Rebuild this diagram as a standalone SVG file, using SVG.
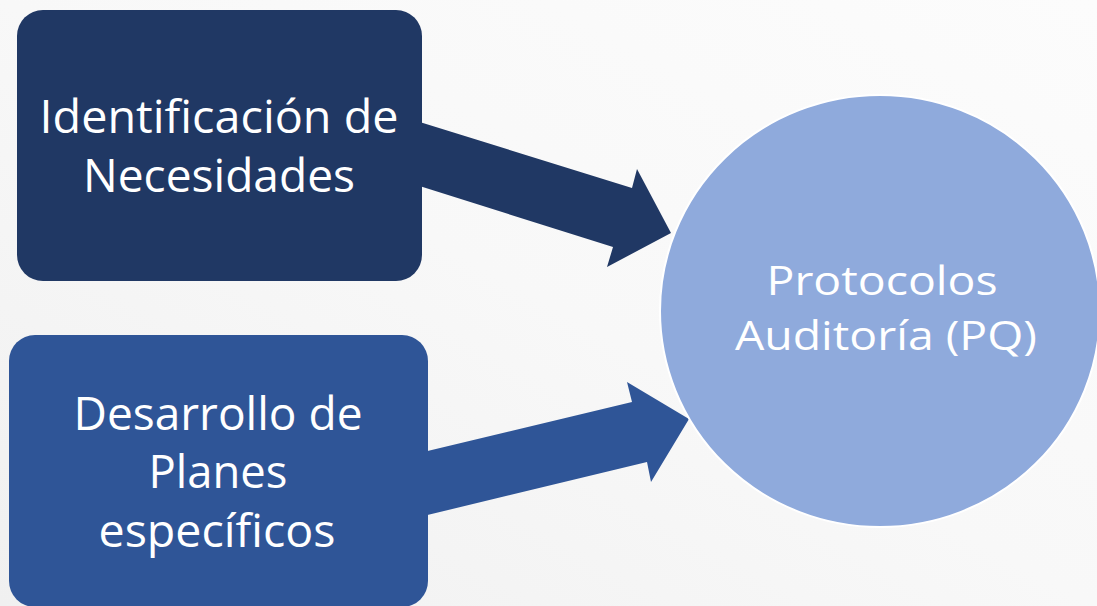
<svg xmlns="http://www.w3.org/2000/svg" width="1097" height="606" viewBox="0 0 1097 606">
  <defs>
    <linearGradient id="bg" x1="1" y1="0" x2="0" y2="1">
      <stop offset="0" stop-color="#fcfcfc"/>
      <stop offset="0.5" stop-color="#f8f8f8"/>
      <stop offset="1" stop-color="#f0f0f0"/>
    </linearGradient>
    <style>
      .lbl { font-family: "Open Sans", "Noto Sans", "Liberation Sans", sans-serif; font-size: 45px; fill: #ffffff; text-anchor: middle; }
      .lbl-c { font-size: 41px; }
    </style>
  </defs>
  <rect x="0" y="0" width="1097" height="606" fill="url(#bg)"/>

  <g id="connectors">
    <polygon fill="#203864" points="410,119 632,188 637,169 671,233 607,267 613,247 410,183"/>
    <polygon fill="#2F5597" points="415,454 632,402 627,382 689,419 651,482 647,462 415,518"/>
  </g>

  <g id="node-identificacion">
    <rect x="17" y="10" width="405" height="271" rx="26" ry="26" fill="#203864"/>
    <text class="lbl" x="219" y="133" textLength="359" lengthAdjust="spacingAndGlyphs">Identificación de</text>
    <text class="lbl" x="219" y="192" textLength="272" lengthAdjust="spacingAndGlyphs">Necesidades</text>
  </g>

  <g id="node-desarrollo">
    <rect x="9" y="335" width="419" height="272" rx="26" ry="26" fill="#2F5597"/>
    <text class="lbl" x="218" y="430" textLength="289" lengthAdjust="spacingAndGlyphs">Desarrollo de</text>
    <text class="lbl" x="218" y="488" textLength="139" lengthAdjust="spacingAndGlyphs">Planes</text>
    <text class="lbl" x="217" y="547" textLength="237" lengthAdjust="spacingAndGlyphs">específicos</text>
  </g>

  <g id="node-protocolos">
    <ellipse cx="880" cy="311" rx="220" ry="216" fill="#8FAADC" stroke="#ffffff" stroke-width="2"/>
    <text class="lbl lbl-c" x="882" y="295" textLength="231" lengthAdjust="spacingAndGlyphs">Protocolos</text>
    <text class="lbl lbl-c" x="886" y="350" textLength="302" lengthAdjust="spacingAndGlyphs">Auditoría (PQ)</text>
  </g>
</svg>
